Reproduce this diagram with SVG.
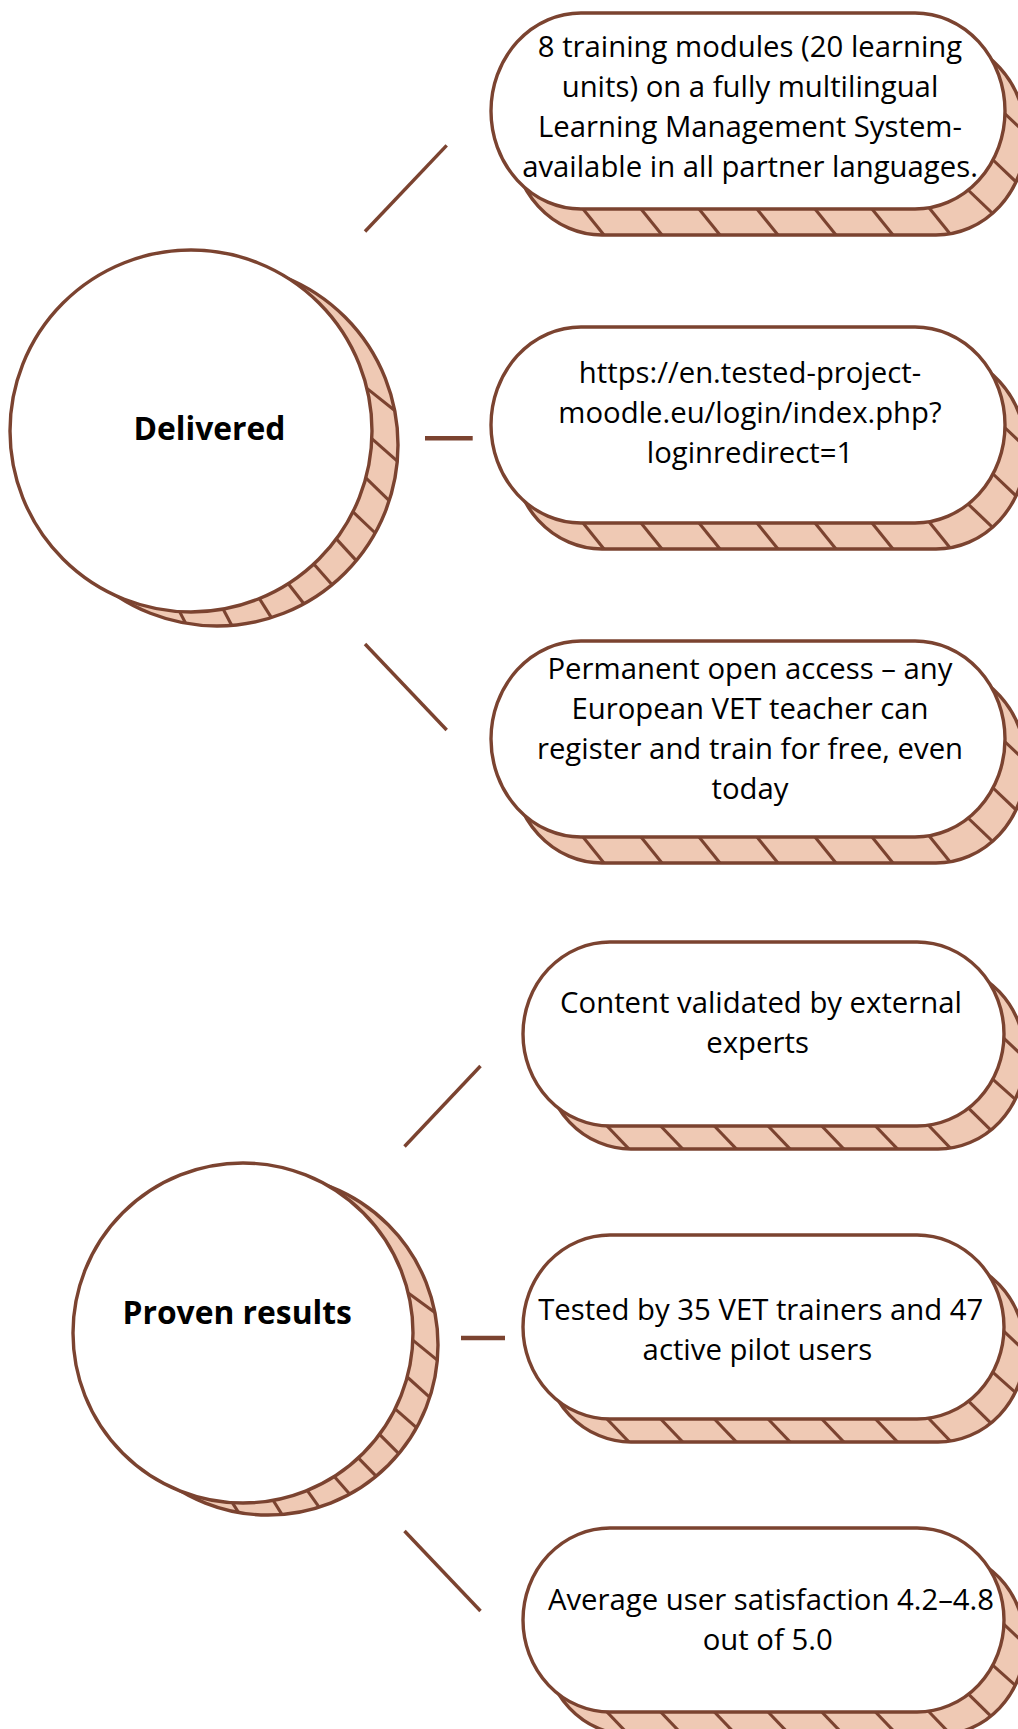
<svg xmlns="http://www.w3.org/2000/svg" width="1018" height="1729" viewBox="0 0 1018 1729">
<style>
.bg{fill:#ffffff}
.sh{fill:#EFC9B4;stroke:#7B4330;stroke-width:3.4}
.mn{fill:#ffffff;stroke:#7B4330;stroke-width:3.4}
.ht{stroke:#7B4330;stroke-width:3.1;fill:none}
.cn{stroke:#7B4330;stroke-width:3.4;fill:none}
.cnh{stroke:#7B4330;stroke-width:4.5;fill:none}
.t{font-family:"Open Sans","Noto Sans","Liberation Sans",sans-serif;font-size:29.3px;fill:#000;text-anchor:middle}
.tb{font-family:"Open Sans","Noto Sans","Liberation Sans",sans-serif;font-size:31.8px;font-weight:700;fill:#000;text-anchor:middle}
</style>
<defs>
<clipPath id="clipA" clipPathUnits="userSpaceOnUse"><rect x="21" y="26" width="514" height="196" rx="90" ry="98"/></clipPath>
<clipPath id="clipB" clipPathUnits="userSpaceOnUse"><rect x="21" y="23" width="481" height="184" rx="87" ry="92"/></clipPath>
<g id="pillA">
<rect class="sh" x="21" y="26" width="514" height="196" rx="90" ry="98"/>
<g clip-path="url(#clipA)" class="ht">
<line x1="87.8" y1="190.8" x2="117.2" y2="227.2"/>
<line x1="145.8" y1="190.8" x2="175.2" y2="227.2"/>
<line x1="203.8" y1="190.8" x2="233.2" y2="227.2"/>
<line x1="261.8" y1="190.8" x2="291.2" y2="227.2"/>
<line x1="319.8" y1="190.8" x2="349.2" y2="227.2"/>
<line x1="376.8" y1="190.8" x2="406.2" y2="227.2"/>
<line x1="434.8" y1="190.8" x2="464.2" y2="227.2"/>
<line x1="475" y1="175" x2="509.4" y2="207.8"/>
<line x1="500" y1="145" x2="534.4" y2="177.8"/>
<line x1="510" y1="97" x2="544.4" y2="129.8"/>
</g>
<rect class="mn" x="0" y="0" width="514" height="196" rx="90" ry="98"/>
</g>
<g id="pillB">
<rect class="sh" x="21" y="23" width="481" height="184" rx="87" ry="92"/>
<g clip-path="url(#clipB)" class="ht">
<line x1="79.7" y1="179.5" x2="110.9" y2="212.1"/>
<line x1="133.4" y1="179.5" x2="164.6" y2="212.1"/>
<line x1="187.1" y1="179.5" x2="218.3" y2="212.1"/>
<line x1="240.8" y1="179.5" x2="272" y2="212.1"/>
<line x1="294.5" y1="179.5" x2="325.7" y2="212.1"/>
<line x1="348.2" y1="179.5" x2="379.4" y2="212.1"/>
<line x1="401.9" y1="179.5" x2="433.1" y2="212.1"/>
<line x1="442.7" y1="163.3" x2="476" y2="196.1"/>
<line x1="467.7" y1="135.4" x2="501" y2="165.1"/>
<line x1="476.5" y1="92.2" x2="509.3" y2="123.2"/>
</g>
<rect class="mn" x="0" y="0" width="481" height="184" rx="87" ry="92"/>
</g>
</defs>
<rect class="bg" x="0" y="0" width="1018" height="1729"/>

<g id="connectors">
<line class="cn" x1="365" y1="231.5" x2="446.7" y2="145.4"/>
<line class="cnh" x1="425" y1="438.3" x2="472.7" y2="438.3"/>
<line class="cn" x1="365" y1="644" x2="446.7" y2="730"/>
<line class="cn" x1="480.5" y1="1066" x2="404.5" y2="1146.5"/>
<line class="cnh" x1="461" y1="1338" x2="505" y2="1338"/>
<line class="cn" x1="404.5" y1="1531" x2="480.5" y2="1611"/>
</g>

<g id="node-delivered">
<circle class="sh" cx="217" cy="445" r="181"/>
<g class="ht">
<line x1="366.9" y1="388.4" x2="394.7" y2="410.5"/>
<line x1="371.8" y1="438.6" x2="397.3" y2="461.1"/>
<line x1="365.8" y1="477.8" x2="389.2" y2="500.6"/>
<line x1="353.0" y1="511.8" x2="375.2" y2="533.0"/>
<line x1="336.3" y1="538.9" x2="356.3" y2="560.6"/>
<line x1="313.8" y1="564.0" x2="332.1" y2="584.7"/>
<line x1="288.3" y1="583.7" x2="303.9" y2="603.8"/>
<line x1="259.4" y1="598.6" x2="271.4" y2="617.6"/>
<line x1="223.1" y1="609.1" x2="231.8" y2="625.4"/>
<line x1="179.6" y1="611.6" x2="185.6" y2="623.2"/>
</g>
<circle class="mn" cx="191" cy="431" r="181"/>
<text class="tb" x="209.5" y="440">Delivered</text>
</g>

<g id="node-proven">
<circle class="sh" cx="268" cy="1345" r="170"/>
<g class="ht">
<line x1="408.2" y1="1293.0" x2="434.9" y2="1312.6"/>
<line x1="412.8" y1="1340.1" x2="437.3" y2="1360.1"/>
<line x1="407.2" y1="1377.0" x2="429.8" y2="1397.3"/>
<line x1="395.1" y1="1408.9" x2="416.5" y2="1427.7"/>
<line x1="379.5" y1="1434.4" x2="398.8" y2="1453.6"/>
<line x1="358.3" y1="1457.9" x2="376.1" y2="1476.2"/>
<line x1="334.3" y1="1476.4" x2="349.6" y2="1494.1"/>
<line x1="307.2" y1="1490.4" x2="319.1" y2="1507.1"/>
<line x1="273.1" y1="1500.3" x2="281.9" y2="1514.4"/>
<line x1="232.3" y1="1502.7" x2="238.5" y2="1512.4"/>
</g>
<circle class="mn" cx="243" cy="1333" r="170"/>
<text class="tb" x="237.2" y="1324.3">Proven results</text>
</g>

<g id="node-modules">
<use href="#pillA" transform="translate(491,13)"/>
<text class="t" x="750" y="57">8 training modules (20 learning</text>
<text class="t" x="750" y="97">units) on a fully multilingual</text>
<text class="t" x="750" y="137">Learning Management System-</text>
<text class="t" x="750" y="177">available in all partner languages.</text>
</g>

<g id="node-url">
<use href="#pillA" transform="translate(491,327)"/>
<text class="t" x="750" y="383">https://en.tested-project-</text>
<text class="t" x="750" y="423">moodle.eu/login/index.php?</text>
<text class="t" x="750" y="463">loginredirect=1</text>
</g>

<g id="node-access">
<use href="#pillA" transform="translate(491,641)"/>
<text class="t" x="750" y="678.5">Permanent open access – any</text>
<text class="t" x="750" y="718.5">European VET teacher can</text>
<text class="t" x="750" y="758.5">register and train for free, even</text>
<text class="t" x="750" y="798.5">today</text>
</g>

<g id="node-validated">
<use href="#pillB" transform="translate(523,942)"/>
<text class="t" x="761" y="1012.7">Content validated by external</text>
<text class="t" x="757.6" y="1052.7">experts</text>
</g>

<g id="node-tested">
<use href="#pillB" transform="translate(523,1235)"/>
<text class="t" x="760.7" y="1320">Tested by 35 VET trainers and 47</text>
<text class="t" x="757.4" y="1360">active pilot users</text>
</g>

<g id="node-satisfaction">
<use href="#pillB" transform="translate(523,1528)"/>
<text class="t" x="771" y="1610">Average user satisfaction 4.2–4.8</text>
<text class="t" x="767.7" y="1650">out of 5.0</text>
</g>
</svg>
